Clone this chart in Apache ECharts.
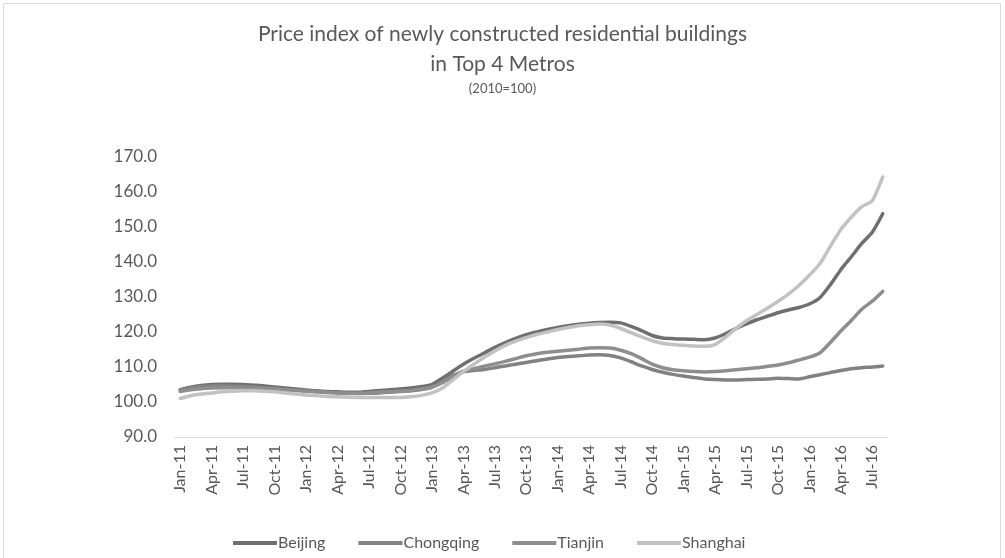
<!DOCTYPE html>
<html>
<head>
<meta charset="utf-8">
<script src="https://cdn.jsdelivr.net/npm/echarts@6/dist/echarts.min.js"></script>
<style>
  html, body { margin: 0; padding: 0; background: #fff; }
  #chart { width: 1005px; height: 558px; }
</style>
</head>
<body>
<div id="chart"></div>
<script>
// Monthly categories, Jan-11 .. Aug-16
const monthNames = ['Jan','Feb','Mar','Apr','May','Jun','Jul','Aug','Sep','Oct','Nov','Dec'];
const months = [];
for (let y = 11; y <= 16; y++) {
  for (let m = 0; m < 12; m++) {
    if (y === 16 && m > 7) break;
    months.push(monthNames[m] + '-' + y);
  }
}

// Price index, 2010 = 100
const beijing = [
  103.5, 104.2, 104.7, 105.0, 105.1, 105.1, 105.0, 104.8, 104.6, 104.3, 104.0, 103.7,
  103.4, 103.2, 103.0, 102.9, 102.8, 102.8, 103.0, 103.3, 103.5, 103.7, 104.0, 104.4,
  105.0, 106.8, 108.8, 110.8, 112.5, 114.0, 115.6, 117.0, 118.2, 119.2, 120.0, 120.7,
  121.3, 121.8, 122.2, 122.5, 122.7, 122.8, 122.6, 121.6, 120.4, 119.0, 118.3, 118.1,
  118.0, 117.9, 117.8, 118.3, 119.5, 121.0, 122.3, 123.5, 124.5, 125.5, 126.3, 127.0,
  128.0, 129.8, 133.5, 137.8, 141.5, 145.3, 148.5, 153.8
];
const chongqing = [
  103.3, 104.0, 104.4, 104.6, 104.7, 104.6, 104.5, 104.3, 104.1, 103.9, 103.6, 103.4,
  103.2, 103.0, 102.8, 102.6, 102.5, 102.4, 102.5, 102.6, 102.8, 103.0, 103.2, 103.6,
  104.2, 105.8, 107.6, 108.6, 109.0, 109.3, 109.8, 110.3, 110.8, 111.3, 111.8, 112.3,
  112.7, 113.0, 113.2, 113.4, 113.5, 113.3, 112.6, 111.5, 110.3, 109.3, 108.5, 107.9,
  107.4, 107.0, 106.6, 106.4, 106.3, 106.3, 106.4, 106.5, 106.6, 106.8, 106.7, 106.6,
  107.2, 107.8, 108.4, 109.0, 109.5, 109.8, 110.0, 110.3
];
const tianjin = [
  103.0, 103.5, 103.8, 104.0, 104.1, 104.1, 104.0, 103.9, 103.8, 103.7, 103.5, 103.3,
  103.1, 102.9, 102.7, 102.6, 102.5, 102.5, 102.6, 102.8, 102.9, 103.1, 103.3, 103.7,
  104.3, 105.5, 107.2, 108.8, 109.5, 110.2, 110.9, 111.6, 112.4, 113.2, 113.8, 114.2,
  114.5, 114.8, 115.1, 115.4, 115.5, 115.4, 114.8, 113.8, 112.4, 110.8, 109.8, 109.2,
  108.9, 108.7, 108.6, 108.7, 108.9, 109.2, 109.5, 109.8, 110.2, 110.6, 111.2, 112.0,
  112.8, 114.0, 117.0, 120.3, 123.3, 126.5, 128.8, 131.6
];
const shanghai = [
  101.0, 101.8, 102.3, 102.6, 102.9, 103.1, 103.2, 103.2, 103.1, 102.9, 102.6, 102.3,
  102.0, 101.8, 101.6, 101.5, 101.4, 101.3, 101.3, 101.3, 101.3, 101.3, 101.5, 101.9,
  102.6, 104.0, 106.3, 108.7, 110.8, 112.8, 114.6, 116.2, 117.4, 118.4, 119.3, 120.0,
  120.7, 121.3, 121.8, 122.1, 122.3, 122.0, 121.0, 119.8, 118.6, 117.5, 116.8, 116.4,
  116.2, 116.0, 115.9, 116.4, 118.5, 121.0, 123.2, 125.0, 126.8, 128.7, 130.8, 133.3,
  136.2, 139.5, 144.5, 149.3, 152.8, 155.8, 157.5, 164.3
];

const seriesDefs = [
  { name: 'Beijing',   data: beijing,   color: '#6f6f6f' },
  { name: 'Chongqing', data: chongqing, color: '#828282' },
  { name: 'Tianjin',   data: tianjin,   color: '#8e8e8e' },
  { name: 'Shanghai',  data: shanghai,  color: '#c2c2c2' }
];

const textColor = '#595959';
const fontFamily = 'Lato, "Open Sans", sans-serif';
const titleStyle = { fontFamily, fontSize: 21, fontWeight: 'normal', color: textColor };

const chart = echarts.init(document.getElementById('chart'), null, { renderer: 'canvas' });
chart.setOption({
  backgroundColor: '#fff',
  animation: false,
  graphic: [{
    type: 'rect',
    shape: { x: 3.5, y: 3.5, width: 997, height: 620 },
    style: { fill: 'none', stroke: '#d9d9d9', lineWidth: 1 },
    silent: true
  }],
  title: [
    { text: 'Price index of newly constructed residential buildings', left: 'center', top: 19, textStyle: titleStyle },
    { text: 'in Top 4 Metros', left: 'center', top: 49, textStyle: titleStyle },
    {
      text: '(2010=100)', left: 'center', top: 77,
      textStyle: { fontFamily, fontSize: 13, fontWeight: 'normal', color: textColor }
    }
  ],
  legend: {
    bottom: 2,
    left: 228,
    icon: 'rect',
    itemWidth: 44,
    itemHeight: 4,
    itemGap: 33,
    textStyle: { fontFamily, fontSize: 16, color: textColor, padding: [0, 0, 0, -4] },
    data: seriesDefs.map(s => s.name)
  },
  grid: { left: 175, right: 117, top: 157, bottom: 121, containLabel: false },
  xAxis: {
    type: 'category',
    data: months,
    boundaryGap: true,
    axisLine: { lineStyle: { color: '#d9d9d9', width: 1 } },
    axisTick: { interval: 2, length: 5, lineStyle: { color: '#d9d9d9' } },
    axisLabel: {
      interval: 2, rotate: 90, color: textColor, fontFamily, fontSize: 16, margin: 8
    },
    splitLine: { show: false }
  },
  yAxis: {
    type: 'value',
    min: 90, max: 170, interval: 10,
    axisLine: { show: false },
    axisTick: { show: false },
    axisLabel: {
      color: textColor, fontFamily, fontSize: 17, margin: 18,
      formatter: v => v.toFixed(1)
    },
    splitLine: { show: false }
  },
  series: seriesDefs.map(s => ({
    name: s.name,
    type: 'line',
    data: s.data,
    symbol: 'none',
    smooth: 0.2,
    itemStyle: { color: s.color },
    lineStyle: { color: s.color, width: 3.5, cap: 'round', join: 'round' }
  }))
});
</script>
</body>
</html>
